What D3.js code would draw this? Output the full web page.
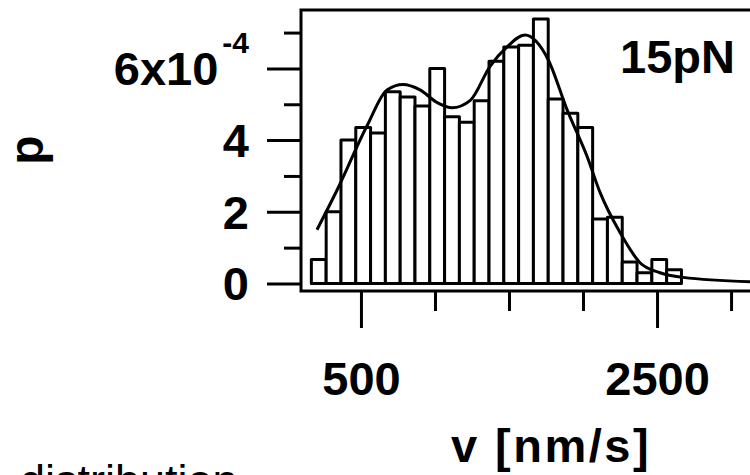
<!DOCTYPE html>
<html>
<head>
<meta charset="utf-8">
<script src="https://cdn.jsdelivr.net/npm/d3@7"></script>
<style>
body { margin: 0; background: white; }
text { font-family: "Liberation Sans", Arial, sans-serif; font-weight: bold; fill: black; }
</style>
</head>
<body>
<svg id="chart"></svg>
<script>
// histogram bins (left edge, nm/s), 100 nm/s wide
let binStarts = [165, 265, 365, 465, 565, 665, 765, 865, 965, 1065, 1165, 1265, 1365,
    1465, 1565, 1665, 1765, 1865, 1965, 2065, 2165, 2265, 2365, 2465, 2565]
let binWidth = 100
// probability density, in units of 1e-4
let probs = [0.67, 2.0, 4.0, 4.35, 4.2, 5.35, 5.2, 4.95, 6.0, 4.65, 4.5, 5.1, 6.2,
    6.6, 6.65, 7.38, 5.15, 4.75, 4.35, 1.8, 1.85, 0.6, 0.3, 0.67, 0.38]

// fitted curve
let fitV = [203, 338, 541, 676, 784, 899, 1014, 1115, 1237, 1372, 1487, 1608, 1764,
    1892, 2027, 2115, 2250, 2385, 2520, 2676, 3128]
let fitP = [1.5, 2.6, 4.4, 5.4, 5.55, 5.4, 5.05, 4.9, 5.1, 6.06, 6.6, 6.93, 6.25,
    4.85, 3.55, 2.54, 1.42, 0.58, 0.3, 0.17, 0.05]

let yMajor = [0, 2, 4, 6]
let yMinor = [1, 3, 5, 7]
let yLabels = ['0', '2', '4', '6x10']
let xMajor = [500, 2500]
let xMinor = [1000, 1500, 2000, 3000]
let xLabels = ['500', '2500']

let width = 750, height = 475
let svg = d3.select('#chart').attr('width', width).attr('height', height)

let x = d3.scaleLinear().domain([95, 3128]).range([301, 750])
let y = d3.scaleLinear().domain([-0.21, 7.63]).range([291, 10])

let plot = svg.append('g')

// bars
plot.selectAll('.bar').data(binStarts)
    .enter().append('rect')
    .attr('class', 'bar')
    .attr('x', d => x(d))
    .attr('width', d => x(d + binWidth) - x(d))
    .attr('y', (d, i) => y(probs[i]))
    .attr('height', (d, i) => y(0) - y(probs[i]))
    .attr('fill', 'white')
    .attr('stroke', 'black')
    .attr('stroke-width', 3)
    .attr('stroke-linejoin', 'round')

// fit line
let line = d3.line()
    .x(d => x(d[0]))
    .y(d => y(d[1]))
    .curve(d3.curveMonotoneX)

plot.append('path')
    .datum(fitV.map((v, i) => [v, fitP[i]]))
    .attr('d', line)
    .attr('fill', 'none')
    .attr('stroke', 'black')
    .attr('stroke-width', 3)

// frame
svg.append('rect')
    .attr('x', 301).attr('y', 10)
    .attr('width', 470).attr('height', 281)
    .attr('fill', 'none')
    .attr('stroke', 'black')
    .attr('stroke-width', 3)

// y axis
let yAxis = svg.append('g')
    .attr('transform', 'translate(301,0)')
    .call(d3.axisLeft(y).tickValues(yMajor).tickSize(34).tickPadding(18)
        .tickFormat((d, i) => yLabels[i]))
let yAxisMinor = svg.append('g')
    .attr('transform', 'translate(301,0)')
    .call(d3.axisLeft(y).tickValues(yMinor).tickSize(17).tickFormat(''))

// x axis
let xAxis = svg.append('g')
    .attr('transform', 'translate(0,291)')
    .call(d3.axisBottom(x).tickValues(xMajor).tickSize(37).tickPadding(34)
        .tickFormat((d, i) => xLabels[i]))
let xAxisMinor = svg.append('g')
    .attr('transform', 'translate(0,291)')
    .call(d3.axisBottom(x).tickValues(xMinor).tickSize(20).tickFormat(''))

svg.selectAll('.domain').remove()
svg.selectAll('.tick line').attr('stroke', 'black').attr('stroke-width', 3)
svg.selectAll('.tick text')
    .attr('font-size', 47)
    .attr('font-family', '"Liberation Sans", Arial, sans-serif')
    .attr('font-weight', 'bold')
    .attr('fill', 'black')
yAxis.selectAll('.tick text').attr('dy', '0.35em')

// exponent on the top label
yAxis.selectAll('.tick text')
    .filter(d => d == 6)
    .append('tspan')
    .attr('dx', 4)
    .attr('dy', -32)
    .attr('font-size', 30)
    .text('-4')

// titles
svg.append('text')
    .attr('x', 551).attr('y', 462)
    .attr('text-anchor', 'middle')
    .attr('font-size', 47)
    .attr('letter-spacing', 2.5)
    .text('v [nm/s]')

svg.append('text')
    .attr('transform', 'translate(43,150) rotate(-90)')
    .attr('text-anchor', 'middle')
    .attr('font-size', 48)
    .text('p')

svg.append('text')
    .attr('x', 620).attr('y', 73)
    .attr('font-size', 47)
    .text('15pN')

// caption cut off at the bottom of the picture
svg.append('text')
    .attr('x', 20).attr('y', 496)
    .attr('font-size', 45)
    .attr('font-weight', 'normal')
    .style('font-weight', 'normal')
    .text('distribution')
</script>
</body>
</html>
